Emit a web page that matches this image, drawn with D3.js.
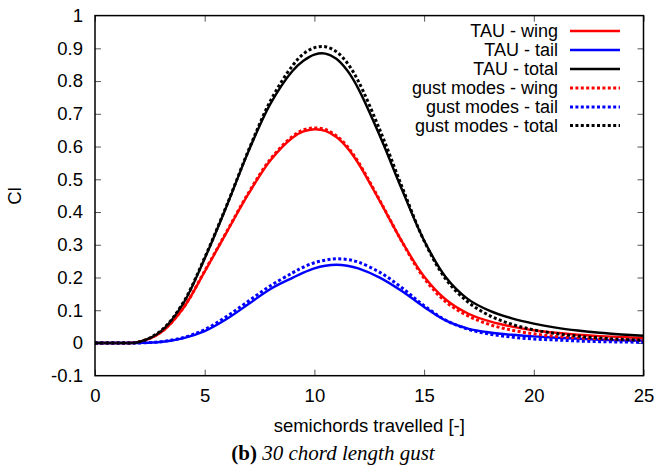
<!DOCTYPE html>
<html>
<head>
<meta charset="utf-8">
<script src="https://cdn.jsdelivr.net/npm/d3@7"></script>
<style>
  html, body { margin: 0; padding: 0; background: #fff; }
  svg { display: block; }
  .tick line { stroke: #555; stroke-width: 1; }
  .tick text { font-family: "Liberation Sans", Arial, sans-serif; font-size: 18.5px; fill: #000; }
</style>
</head>
<body>
<svg id="chart" width="657" height="470"></svg>
<script>
// Distance travelled (semichords) at which each series is sampled
const xs = [0, 1, 2, 3, 4, 5, 6, 7, 8, 9, 9.5, 10, 10.5, 11, 11.5, 12, 13, 14, 15, 16, 17, 18, 19, 20, 21, 22, 23, 24, 25];

// Lift coefficient, TAU reference solution
const tauWing  = [0, 0, 0.003, 0.032, 0.104, 0.218, 0.338, 0.456, 0.558, 0.627, 0.646, 0.653, 0.648, 0.629, 0.596, 0.549, 0.431, 0.309, 0.203, 0.132, 0.090, 0.066, 0.050, 0.039, 0.031, 0.025, 0.021, 0.018, 0.015];
const tauTail  = [0, 0, 0, 0.003, 0.014, 0.036, 0.073, 0.119, 0.165, 0.199, 0.215, 0.228, 0.236, 0.239, 0.236, 0.228, 0.199, 0.158, 0.110, 0.068, 0.044, 0.032, 0.025, 0.020, 0.016, 0.013, 0.010, 0.008, 0.007];
const tauTotal = [0, 0, 0.003, 0.035, 0.118, 0.258, 0.418, 0.586, 0.731, 0.831, 0.862, 0.881, 0.884, 0.868, 0.832, 0.777, 0.630, 0.467, 0.313, 0.200, 0.134, 0.098, 0.075, 0.059, 0.047, 0.038, 0.031, 0.026, 0.022];

// Lift coefficient, gust modes reduced model
const gmWing   = [0, 0, 0.003, 0.033, 0.105, 0.220, 0.340, 0.459, 0.562, 0.631, 0.651, 0.657, 0.652, 0.633, 0.600, 0.553, 0.433, 0.308, 0.198, 0.125, 0.083, 0.056, 0.039, 0.028, 0.020, 0.015, 0.011, 0.008, 0.006];
const gmTail   = [0, 0, 0, 0.004, 0.016, 0.041, 0.081, 0.128, 0.175, 0.214, 0.232, 0.245, 0.253, 0.257, 0.255, 0.247, 0.215, 0.168, 0.114, 0.069, 0.042, 0.027, 0.018, 0.012, 0.009, 0.006, 0.004, 0.003, 0.002];
const gmTotal  = [0, 0, 0.003, 0.037, 0.121, 0.261, 0.420, 0.589, 0.740, 0.847, 0.883, 0.902, 0.905, 0.890, 0.855, 0.800, 0.648, 0.476, 0.312, 0.194, 0.125, 0.083, 0.057, 0.040, 0.029, 0.021, 0.015, 0.011, 0.008];

const xTicks = [0, 5, 10, 15, 20, 25];
const xTickLabels = ["0", "5", "10", "15", "20", "25"];
const yTicks = [-0.1, 0, 0.1, 0.2, 0.3, 0.4, 0.5, 0.6, 0.7, 0.8, 0.9, 1];
const yTickLabels = ["-0.1", "0", "0.1", "0.2", "0.3", "0.4", "0.5", "0.6", "0.7", "0.8", "0.9", "1"];

const seriesNames = ["TAU - wing", "TAU - tail", "TAU - total", "gust modes - wing", "gust modes - tail", "gust modes - total"];
const seriesValues = [tauWing, tauTail, tauTotal, gmWing, gmTail, gmTotal];
const seriesColors = ["#ff0000", "#0000ff", "#000000", "#ff0000", "#0000ff", "#000000"];
const seriesDashed = [false, false, false, true, true, true];

const svg = d3.select("#chart");
const plotLeft = 95, plotRight = 643.5, plotTop = 15.6, plotBottom = 375.7;

const x = d3.scaleLinear().domain([0, 25]).range([plotLeft, plotRight]);
const y = d3.scaleLinear().domain([-0.1, 1]).range([plotBottom, plotTop]);

svg.append("rect").attr("width", 657).attr("height", 470).attr("fill", "#fff");

// Axes with inward ticks on all four sides
svg.append("g").attr("transform", `translate(0,${plotBottom})`)
  .call(d3.axisBottom(x).tickValues(xTicks).tickFormat((d, i) => xTickLabels[i])
    .tickSizeInner(-6).tickSizeOuter(0).tickPadding(13))
  .call(g => g.select(".domain").remove());
svg.append("g").attr("transform", `translate(0,${plotTop})`)
  .call(d3.axisTop(x).tickValues(xTicks).tickFormat("").tickSizeInner(-6).tickSizeOuter(0))
  .call(g => g.select(".domain").remove());
svg.append("g").attr("transform", `translate(${plotLeft},0)`)
  .call(d3.axisLeft(y).tickValues(yTicks).tickFormat((d, i) => yTickLabels[i])
    .tickSizeInner(-6).tickSizeOuter(0).tickPadding(12))
  .call(g => g.select(".domain").remove())
  .call(g => g.selectAll(".tick").filter(d => d === -0.1 || d === 1).select("line").remove());
svg.append("g").attr("transform", `translate(${plotRight},0)`)
  .call(d3.axisRight(y).tickValues(yTicks).tickFormat("").tickSizeInner(-6).tickSizeOuter(0))
  .call(g => g.select(".domain").remove())
  .call(g => g.selectAll(".tick").filter(d => d === -0.1 || d === 1).select("line").remove());

svg.selectAll(".tick text").attr("fill", "#000");

// Curves, clipped to the plot frame
svg.append("clipPath").attr("id", "plot-clip")
  .append("rect").attr("x", plotLeft).attr("y", plotTop)
  .attr("width", plotRight - plotLeft).attr("height", plotBottom - plotTop);

const line = d3.line().x(d => x(d[0])).y(d => y(d[1])).curve(d3.curveCatmullRom.alpha(0.5));
const curves = svg.append("g").attr("clip-path", "url(#plot-clip)");
seriesValues.forEach((vals, k) => {
  curves.append("path")
    .datum(xs.map((xv, i) => [xv, vals[i]]))
    .attr("d", line)
    .attr("fill", "none")
    .attr("stroke", seriesColors[k])
    .attr("stroke-width", seriesDashed[k] ? 3 : 2.4)
    .attr("stroke-dasharray", seriesDashed[k] ? "3,2.4" : null)
    .attr("stroke-linejoin", "round");
});

// Plot frame
svg.append("rect").attr("x", plotLeft).attr("y", plotTop)
  .attr("width", plotRight - plotLeft).attr("height", plotBottom - plotTop)
  .attr("fill", "none").attr("stroke", "#000").attr("stroke-width", 1.5);

// Legend
const legend = svg.append("g");
const legendRows = [31, 50, 69, 88, 107, 125.5];
seriesNames.forEach((name, k) => {
  legend.append("text")
    .attr("x", 558).attr("y", legendRows[k]).attr("dy", "0.34em")
    .attr("text-anchor", "end")
    .attr("font-family", "Liberation Sans, Arial, sans-serif").attr("font-size", 18)
    .text(name);
  legend.append("line")
    .attr("x1", 570).attr("x2", 620).attr("y1", legendRows[k]).attr("y2", legendRows[k])
    .attr("stroke", seriesColors[k])
    .attr("stroke-width", seriesDashed[k] ? 3 : 2.4)
    .attr("stroke-dasharray", seriesDashed[k] ? "3,2.4" : null);
});

// Axis titles
svg.append("text")
  .attr("x", (plotLeft + plotRight) / 2).attr("y", 431.5)
  .attr("text-anchor", "middle")
  .attr("font-family", "Liberation Sans, Arial, sans-serif").attr("font-size", 18.5)
  .text("semichords travelled [-]");
svg.append("text")
  .attr("transform", "translate(21,196) rotate(-90)")
  .attr("text-anchor", "middle")
  .attr("font-family", "Liberation Sans, Arial, sans-serif").attr("font-size", 18.5)
  .text("Cl");

// Caption
const cap = svg.append("text")
  .attr("x", 333).attr("y", 460)
  .attr("text-anchor", "middle")
  .attr("font-family", "Liberation Serif, 'Times New Roman', serif").attr("font-size", 21);
cap.append("tspan").attr("font-weight", "bold").text("(b)");
cap.append("tspan").attr("font-style", "italic").text(" 30 chord length gust");
</script>
</body>
</html>
